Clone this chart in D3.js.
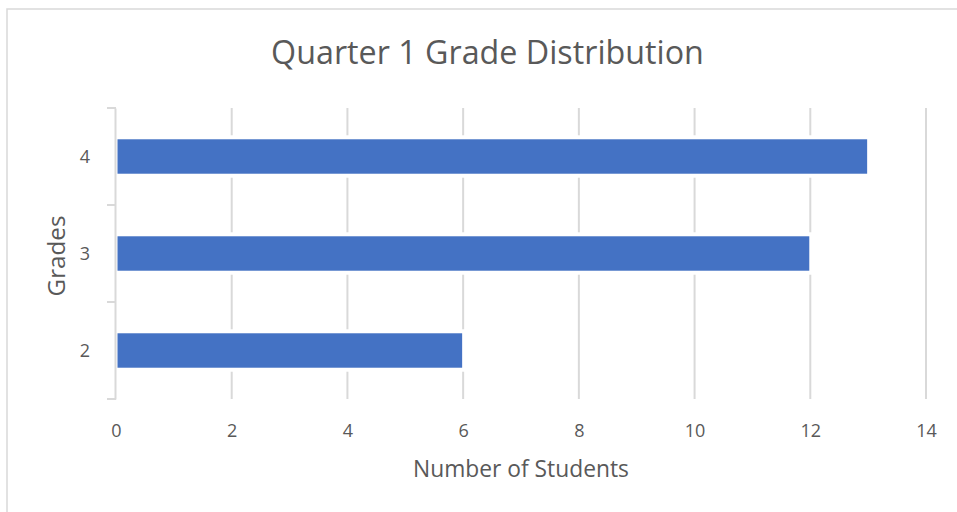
<!DOCTYPE html>
<html><head><meta charset="utf-8">
<script src="https://cdn.jsdelivr.net/npm/d3@7"></script>
<style>body{margin:0;background:#fff}svg{display:block}text{font-family:"Open Sans",sans-serif;fill:#595959}</style>
</head><body><svg id="c" width="957" height="512"></svg>
<script>
const categories = ["4", "3", "2"];
const values = [13, 12, 6];
const xTicks = [0, 2, 4, 6, 8, 10, 12, 14];
const title = "Quarter 1 Grade Distribution";
const xTitle = "Number of Students";
const yTitle = "Grades";

const svg = d3.select("#c");
svg.append("rect").attr("x",7).attr("y",9).attr("width",1000).attr("height",600)
  .attr("fill","#fff").attr("stroke","#d9d9d9").attr("stroke-width",1.5);

const x = d3.scaleLinear().domain([0,14]).range([116,926]);
const y = d3.scaleBand().domain(categories).range([108,399]).paddingInner(0).paddingOuter(0);
const barFrac = 0.355;

// grid
svg.append("g").selectAll("line").data(xTicks.filter(d=>d>0)).join("line")
  .attr("x1",d=>x(d)).attr("x2",d=>x(d)).attr("y1",108).attr("y2",399)
  .attr("stroke","#d9d9d9").attr("stroke-width",2);

// bars (with white halo)
const bh = y.bandwidth()*barFrac;
const g = svg.append("g");
categories.forEach((c,i)=>{
  const cy = y(c)+y.bandwidth()/2;
  g.append("rect").attr("x",x(0)).attr("y",cy-bh/2-4).attr("width",x(values[i])-x(0)+3).attr("height",bh+8).attr("fill","#fff");
  g.append("rect").attr("x",x(0)+1.5).attr("y",cy-bh/2).attr("width",x(values[i])-x(0)-2.5).attr("height",bh).attr("fill","#4472c4");
});

// y axis
const yAxis = d3.axisLeft(y).tickSize(0).tickPadding(25);
const ya = svg.append("g").attr("transform","translate(115,0)").call(yAxis);
ya.select(".domain").attr("stroke","#d9d9d9").attr("stroke-width",2);
ya.selectAll("text").attr("font-size",18).attr("dy","0.36em");
svg.append("g").selectAll("line").data([108,...categories.map(c=>y(c)+y.bandwidth())]).join("line")
  .attr("x1",107).attr("x2",116).attr("y1",d=>d).attr("y2",d=>d)
  .attr("stroke","#d9d9d9").attr("stroke-width",2);

// x axis labels
const xAxis = d3.axisBottom(x).tickValues(xTicks).tickSize(0).tickPadding(25);
const xa = svg.append("g").attr("transform","translate(0,399)").call(xAxis);
xa.select(".domain").remove();
xa.selectAll("text").attr("font-size",18).attr("dy","0.71em");
svg.selectAll("g").attr("font-family",null).attr("font-size",null);

function fit(sel, w){
  const l = sel.node().getComputedTextLength();
  const fs = +sel.attr("font-size");
  sel.attr("font-size", fs*w/l);
}
fit(svg.append("text").attr("x",487.5).attr("y",64).attr("text-anchor","middle").attr("font-size",30).text(title), 433);
fit(svg.append("text").attr("x",521).attr("y",476.5).attr("text-anchor","middle").attr("font-size",20).text(xTitle), 216);
fit(svg.append("text").attr("transform","translate(65,256) rotate(-90)").attr("text-anchor","middle").attr("font-size",20).text(yTitle), 81);
</script></body></html>
